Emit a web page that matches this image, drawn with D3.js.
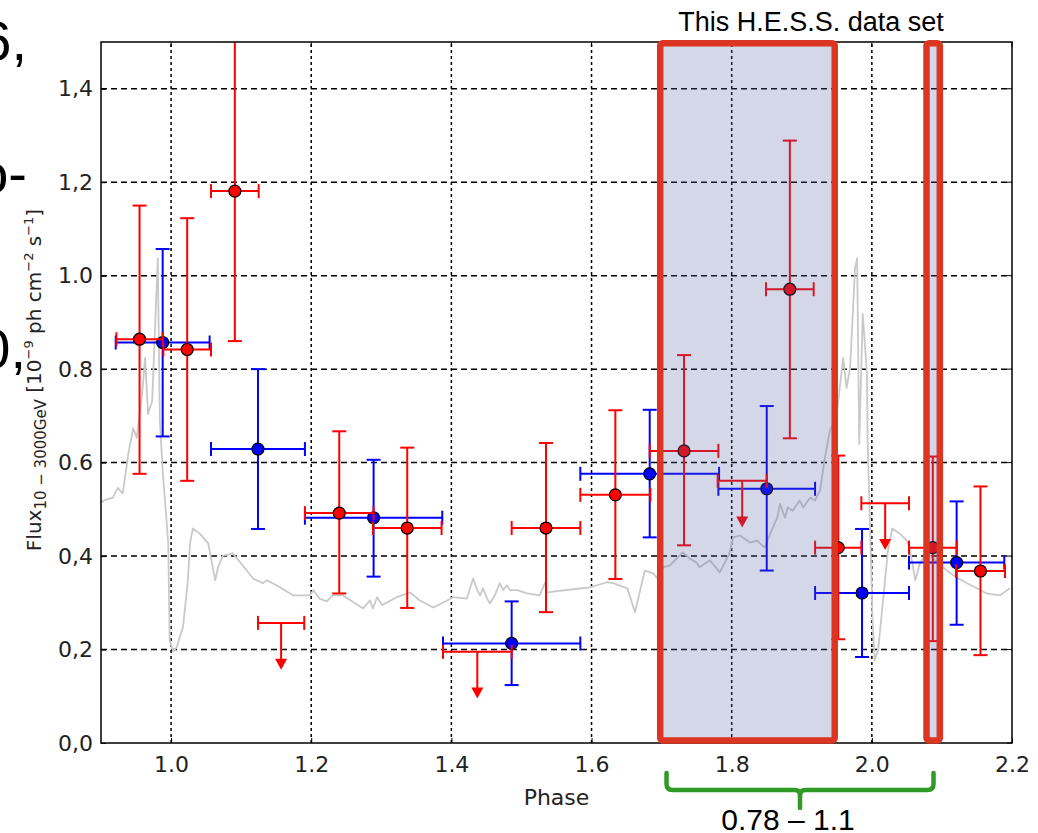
<!DOCTYPE html>
<html>
<head>
<meta charset="utf-8">
<title>Flux vs phase</title>
<script src="https://d3js.org/d3.v7.min.js"></script>
<style>
  body { margin: 0; background: #fff; }
  svg { display: block; }
</style>
</head>
<body>
<script>
// ---- data ----
// red points: phase, flux, half width in phase, lower / upper end of flux error
const redPhase = [0.955, 1.023, 1.091, 1.240, 1.337, 1.535, 1.634, 1.732, 1.883, 1.952, 2.087, 2.155];
const redFlux  = [0.864, 0.842, 1.181, 0.492, 0.460, 0.460, 0.531, 0.625, 0.971, 0.418, 0.418, 0.368];
const redXErr  = [0.033, 0.034, 0.034, 0.049, 0.049, 0.049, 0.050, 0.049, 0.034, 0.033, 0.034, 0.035];
const redLow   = [0.576, 0.561, 0.860, 0.320, 0.289, 0.280, 0.351, 0.423, 0.652, 0.222, 0.218, 0.188];
const redHigh  = [1.150, 1.123, 1.600, 0.667, 0.632, 0.642, 0.712, 0.830, 1.289, 0.615, 0.613, 0.549];

// red upper limits
const ulPhase = [1.157, 1.437, 1.815, 2.019];
const ulFlux  = [0.257, 0.195, 0.561, 0.513];
const ulXErr  = [0.033, 0.049, 0.035, 0.034];

// blue points
const bluePhase = [0.988, 1.124, 1.289, 1.486, 1.683, 1.850, 1.986, 2.121];
const blueFlux  = [0.857, 0.629, 0.482, 0.213, 0.576, 0.544, 0.321, 0.386];
const blueXErr  = [0.067, 0.067, 0.098, 0.098, 0.099, 0.069, 0.067, 0.068];
const blueLow   = [0.656, 0.458, 0.356, 0.124, 0.440, 0.369, 0.184, 0.253];
const blueHigh  = [1.057, 0.800, 0.606, 0.303, 0.713, 0.721, 0.458, 0.517];

// grey model light curve
const curvePhase = [0.900,0.904,0.917,0.924,0.931,0.939,0.946,0.951,0.959,0.963,0.967,0.973,0.977,0.981,0.984,0.988,0.996,0.998,
  1.003,1.008,1.017,1.024,1.027,1.031,1.041,1.053,1.063,1.067,1.074,1.088,1.108,1.117,1.131,1.137,1.151,1.174,1.198,1.203,1.212,
  1.222,1.231,1.245,1.274,1.284,1.288,1.294,1.301,1.322,1.341,1.355,1.374,1.394,1.402,1.422,1.431,1.437,1.441,1.445,1.451,1.455,
  1.462,1.469,1.474,1.479,1.484,1.494,1.508,1.526,1.534,1.536,1.545,1.574,1.598,1.622,1.631,1.651,1.662,1.676,1.688,1.693,1.702,
  1.712,1.730,1.740,1.750,1.754,1.769,1.783,1.797,1.802,1.812,1.826,1.836,1.847,1.855,1.865,1.869,1.876,1.880,1.887,1.897,1.902,
  1.912,1.919,1.926,1.933,1.940,1.945,1.951,1.959,1.964,1.969,1.976,1.979,1.982,1.987,1.993,1.994,1.998,2.001,2.004,2.009,2.016,
  2.023,2.029,2.040,2.050,2.054,2.062,2.069,2.079,2.107,2.121,2.136,2.164,2.183,2.197];
const curveFlux = [0.514,0.519,0.525,0.546,0.534,0.619,0.674,0.653,0.753,0.824,0.704,0.732,0.882,1.037,0.689,0.583,0.427,0.220,
  0.196,0.205,0.248,0.348,0.427,0.459,0.448,0.427,0.348,0.376,0.401,0.406,0.369,0.352,0.342,0.348,0.337,0.316,0.316,0.327,0.309,
  0.303,0.316,0.316,0.288,0.305,0.288,0.312,0.295,0.312,0.322,0.305,0.290,0.305,0.312,0.309,0.352,0.327,0.316,0.331,0.309,0.299,
  0.316,0.342,0.327,0.337,0.327,0.327,0.320,0.316,0.344,0.322,0.324,0.329,0.333,0.344,0.342,0.331,0.280,0.369,0.363,0.354,0.376,
  0.380,0.408,0.395,0.386,0.376,0.391,0.365,0.406,0.440,0.444,0.429,0.433,0.418,0.448,0.482,0.512,0.482,0.504,0.497,0.519,0.504,
  0.525,0.519,0.540,0.610,0.668,0.683,0.717,0.824,0.760,0.803,1.016,1.037,0.640,0.918,0.790,0.647,0.433,0.263,0.177,0.199,0.305,
  0.412,0.459,0.448,0.433,0.418,0.348,0.386,0.406,0.369,0.354,0.342,0.320,0.316,0.331];

// ticks
const xTicks = [1.0, 1.2, 1.4, 1.6, 1.8, 2.0, 2.2];
const xTickLabels = ["1.0", "1.2", "1.4", "1.6", "1.8", "2.0", "2.2"];
const yTicks = [0.0, 0.2, 0.4, 0.6, 0.8, 1.0, 1.2, 1.4];
const yTickLabels = ["0,0", "0,2", "0,4", "0.6", "0.8", "1.0", "1,2", "1,4"];

// highlighted H.E.S.S. windows and the brace under them (phase)
const hessWindows = [[1.698, 1.947], [2.078, 2.097]];
const braceRange = [1.707, 2.088];

// ---- drawing ----
const width = 1038, height = 833;
const margin = {"top": 42, "right": 26, "bottom": 90, "left": 101};
const svg = d3.select("body").append("svg").attr("width", width).attr("height", height);
svg.append("rect").attr("width", width).attr("height", height).attr("fill", "#fff");

const x = d3.scaleLinear().domain([0.9, 2.2]).range([margin.left, width - margin.right]);
const y = d3.scaleLinear().domain([0, 1.5]).range([height - margin.bottom, margin.top]);
const plotW = x.range()[1] - x.range()[0];
const plotH = y.range()[0] - y.range()[1];

svg.append("clipPath").attr("id", "plotclip")
  .append("rect").attr("x", margin.left).attr("y", margin.top).attr("width", plotW).attr("height", plotH);

// cut-off slide text at the left edge
const slideText = svg.append("g").attr("font-family", "Liberation Sans, Arial, sans-serif")
  .attr("font-size", 56).attr("fill", "#000").attr("text-anchor", "end");
slideText.append("text").attr("x", 27).attr("y", 60).text("6,");
slideText.append("text").attr("x", 27).attr("y", 193).text("o-");
slideText.append("text").attr("x", 26).attr("y", 368).text("0,");

// grid
const grid = svg.append("g").attr("stroke", "#000").attr("stroke-width", 1.5);
grid.selectAll(".hg").data(yTicks.filter(d => d > 0)).join("line")
  .attr("x1", x.range()[0]).attr("x2", x.range()[1])
  .attr("y1", d => y(d)).attr("y2", d => y(d))
  .attr("stroke-dasharray", "6,4");
grid.selectAll(".vg").data(xTicks.filter(d => d < 2.2)).join("line")
  .attr("y1", y.range()[0]).attr("y2", y.range()[1])
  .attr("x1", d => x(d)).attr("x2", d => x(d))
  .attr("stroke-dasharray", "3,3");

const plot = svg.append("g").attr("clip-path", "url(#plotclip)");

// model curve
const line = d3.line().x(d => x(d[0])).y(d => y(d[1]));
plot.append("path")
  .datum(d3.zip(curvePhase, curveFlux))
  .attr("fill", "none").attr("stroke", "#c9c9c9").attr("stroke-width", 1.8)
  .attr("stroke-linejoin", "round")
  .attr("d", line);

const cap = 7;
function errorbars(g, phase, flux, xerr, low, high, color) {
  phase.forEach((p, i) => {
    const e = g.append("g").attr("stroke", color).attr("stroke-width", 2);
    e.append("line").attr("x1", x(p)).attr("x2", x(p)).attr("y1", y(low[i])).attr("y2", y(high[i]));
    e.append("line").attr("x1", x(p) - cap).attr("x2", x(p) + cap).attr("y1", y(low[i])).attr("y2", y(low[i]));
    e.append("line").attr("x1", x(p) - cap).attr("x2", x(p) + cap).attr("y1", y(high[i])).attr("y2", y(high[i]));
    e.append("line").attr("x1", x(p - xerr[i])).attr("x2", x(p + xerr[i])).attr("y1", y(flux[i])).attr("y2", y(flux[i]));
    e.append("line").attr("x1", x(p - xerr[i])).attr("x2", x(p - xerr[i])).attr("y1", y(flux[i]) - cap).attr("y2", y(flux[i]) + cap);
    e.append("line").attr("x1", x(p + xerr[i])).attr("x2", x(p + xerr[i])).attr("y1", y(flux[i]) - cap).attr("y2", y(flux[i]) + cap);
  });
  g.selectAll(null).data(d3.zip(phase, flux)).join("circle")
    .attr("cx", d => x(d[0])).attr("cy", d => y(d[1])).attr("r", 6)
    .attr("fill", color).attr("stroke", "#000").attr("stroke-width", 1.2);
}

errorbars(plot.append("g"), bluePhase, blueFlux, blueXErr, blueLow, blueHigh, "#0000ff");
errorbars(plot.append("g"), redPhase, redFlux, redXErr, redLow, redHigh, "#ff0000");

// upper limits
const ul = plot.append("g").attr("stroke", "#ff0000").attr("stroke-width", 2);
ulPhase.forEach((p, i) => {
  const yb = y(ulFlux[i]), tip = y(ulFlux[i] - 0.1);
  ul.append("line").attr("x1", x(p - ulXErr[i])).attr("x2", x(p + ulXErr[i])).attr("y1", yb).attr("y2", yb);
  ul.append("line").attr("x1", x(p - ulXErr[i])).attr("x2", x(p - ulXErr[i])).attr("y1", yb - cap).attr("y2", yb + cap);
  ul.append("line").attr("x1", x(p + ulXErr[i])).attr("x2", x(p + ulXErr[i])).attr("y1", yb - cap).attr("y2", yb + cap);
  ul.append("line").attr("x1", x(p)).attr("x2", x(p)).attr("y1", yb).attr("y2", tip - 6);
  ul.append("path").attr("stroke", "none").attr("fill", "#ff0000")
    .attr("d", `M${x(p) - 6},${tip - 11}L${x(p) + 6},${tip - 11}L${x(p)},${tip}Z`);
});

// axes frame and ticks
const xAxis = d3.axisBottom(x).tickValues(xTicks).tickFormat((d, i) => xTickLabels[i])
  .tickSizeInner(-5).tickSizeOuter(0).tickPadding(13);
const yAxis = d3.axisLeft(y).tickValues(yTicks).tickFormat((d, i) => yTickLabels[i])
  .tickSizeInner(-5).tickSizeOuter(0).tickPadding(8);

const gx = svg.append("g").attr("transform", "translate(0," + y.range()[0] + ")").call(xAxis);
const gy = svg.append("g").attr("transform", "translate(" + x.range()[0] + ",0)").call(yAxis);
[gx, gy].forEach(g => {
  g.select(".domain").remove();
  g.selectAll("line").attr("stroke", "#000").attr("stroke-width", 1);
  g.selectAll("text").attr("font-family", "DejaVu Sans, sans-serif").attr("font-size", 22).attr("fill", "#222");
});
// ticks on top and right side too
svg.append("g").selectAll("line").data(xTicks).join("line")
  .attr("x1", d => x(d)).attr("x2", d => x(d)).attr("y1", y.range()[1]).attr("y2", y.range()[1] + 5)
  .attr("stroke", "#000");
svg.append("g").selectAll("line").data(yTicks).join("line")
  .attr("x1", x.range()[1]).attr("x2", x.range()[1] - 5).attr("y1", d => y(d)).attr("y2", d => y(d))
  .attr("stroke", "#000");

svg.append("rect").attr("x", margin.left).attr("y", margin.top).attr("width", plotW).attr("height", plotH)
  .attr("fill", "none").attr("stroke", "#000").attr("stroke-width", 1.5);

// axis labels
svg.append("text").attr("x", (x.range()[0] + x.range()[1]) / 2).attr("y", 805)
  .attr("text-anchor", "middle").attr("font-family", "DejaVu Sans, sans-serif")
  .attr("font-size", 22).attr("fill", "#222").text("Phase");

const ylab = svg.append("text").attr("transform", "translate(41,380) rotate(-90)")
  .attr("text-anchor", "middle").attr("font-family", "DejaVu Sans, sans-serif")
  .attr("font-size", 20).attr("fill", "#222");
ylab.append("tspan").text("Flux");
ylab.append("tspan").attr("font-size", 15).attr("dy", 5).text("10 − 3000GeV");
ylab.append("tspan").attr("dy", -5).text(" [10");
ylab.append("tspan").attr("font-size", 13).attr("dy", -8).text("−9");
ylab.append("tspan").attr("dy", 8).text(" ph cm");
ylab.append("tspan").attr("font-size", 13).attr("dy", -8).text("−2");
ylab.append("tspan").attr("dy", 8).text(" s");
ylab.append("tspan").attr("font-size", 13).attr("dy", -8).text("−1");
ylab.append("tspan").attr("dy", 8).text("]");

// H.E.S.S. windows
svg.append("g").selectAll("rect").data(hessWindows).join("rect")
  .attr("x", d => x(d[0])).attr("width", d => x(d[1]) - x(d[0]))
  .attr("y", y(1.5) + 1.3).attr("height", plotH - 3.8)
  .attr("rx", 2.5)
  .attr("fill", "rgba(80,96,165,0.25)")
  .attr("stroke", "#dc3522").attr("stroke-width", 6.5);

svg.append("text").attr("x", 811).attr("y", 31)
  .attr("text-anchor", "middle").attr("font-family", "Liberation Sans, Arial, sans-serif")
  .attr("font-size", 27).attr("fill", "#000").text("This H.E.S.S. data set");

// brace
const bl = x(braceRange[0]), br = x(braceRange[1]), bm = (bl + br) / 2;
svg.append("path")
  .attr("d", `M${bl},773V784Q${bl},790 ${bl + 6},790H${bm - 5}Q${bm},790 ${bm},796V808` +
             `M${bm},796Q${bm},790 ${bm + 5},790H${br - 6}Q${br},790 ${br},784V773`)
  .attr("fill", "none").attr("stroke", "#2f9a24").attr("stroke-width", 4.5)
  .attr("stroke-linecap", "round").attr("stroke-linejoin", "round");

svg.append("text").attr("x", 788).attr("y", 830)
  .attr("text-anchor", "middle").attr("font-family", "Liberation Sans, Arial, sans-serif")
  .attr("font-size", 30).attr("fill", "#000").text("0.78 – 1.1");
</script>
</body>
</html>
